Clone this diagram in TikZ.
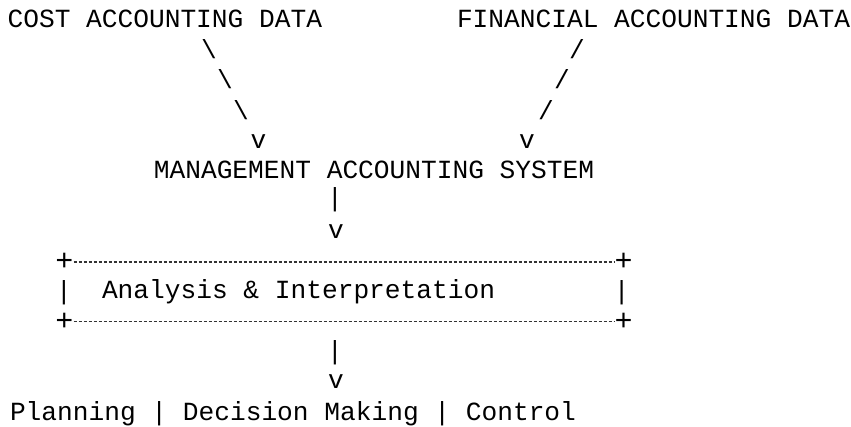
\documentclass[tikz,border=0pt]{standalone}
\usepackage{fontspec}
\setmonofont{Liberation Mono}
\begin{document}
\begin{tikzpicture}[x=1pt,y=-1pt,
  txt/.style={font=\ttfamily\fontsize{26.2}{30}\selectfont, inner sep=0pt, outer sep=0pt, text=black},
  plus/.style={font=\ttfamily\fontsize{30}{30}\selectfont, inner sep=0pt, outer sep=0pt, text=black},
  dashline/.style={line width=1.2pt, draw=black!80, dash pattern=on 3.5pt off 1.5pt}]
\useasboundingbox[fill=white] (0,0) rectangle (851,426);
% top sources
\node[txt, anchor=base west] (cost) at (7.6,27) {COST ACCOUNTING DATA};
\node[txt, anchor=base west] (fin) at (457,27) {FINANCIAL ACCOUNTING DATA};
% left slashes
\node[txt] (ls1) at (209,49.5) {\textbackslash};
\node[txt] (ls2) at (225,79.5) {\textbackslash};
\node[txt] (ls3) at (241,110.5) {\textbackslash};
\node[txt, anchor=base] (lv) at (258.5,148) {v};
% right slashes
\node[txt] (rs1) at (577,49.5) {/};
\node[txt] (rs2) at (562,79.5) {/};
\node[txt] (rs3) at (546,110.5) {/};
\node[txt, anchor=base] (rv) at (527,148) {v};
% management accounting system
\node[txt, anchor=base] (mas) at (374,178) {MANAGEMENT ACCOUNTING SYSTEM};
\node[txt] (bar1) at (335,200) {|};
\node[txt, anchor=base] (v1) at (336,238.3) {v};
% box
\node[plus] (tl) at (64.5,262) {+};
\node[plus] (tr) at (623.5,262) {+};
\node[plus] (bl) at (64.5,321.5) {+};
\node[plus] (br) at (623.5,321.5) {+};
\draw[dashline] (tl.east) -- (tr.west);
\draw[dashline] (bl.east) -- (br.west);
\node[txt] (lbar) at (64,292.5) {|};
\node[txt] (rbar) at (621.7,292.5) {|};
\node[txt, anchor=base west] (ai) at (102,298) {Analysis \& Interpretation};
% output
\node[txt] (bar2) at (335,352.5) {|};
\node[txt, anchor=base] (v2) at (336,388.3) {v};
\node[txt, anchor=base west] (out) at (10,420) {Planning | Decision Making | Control};
\end{tikzpicture}
\end{document}
